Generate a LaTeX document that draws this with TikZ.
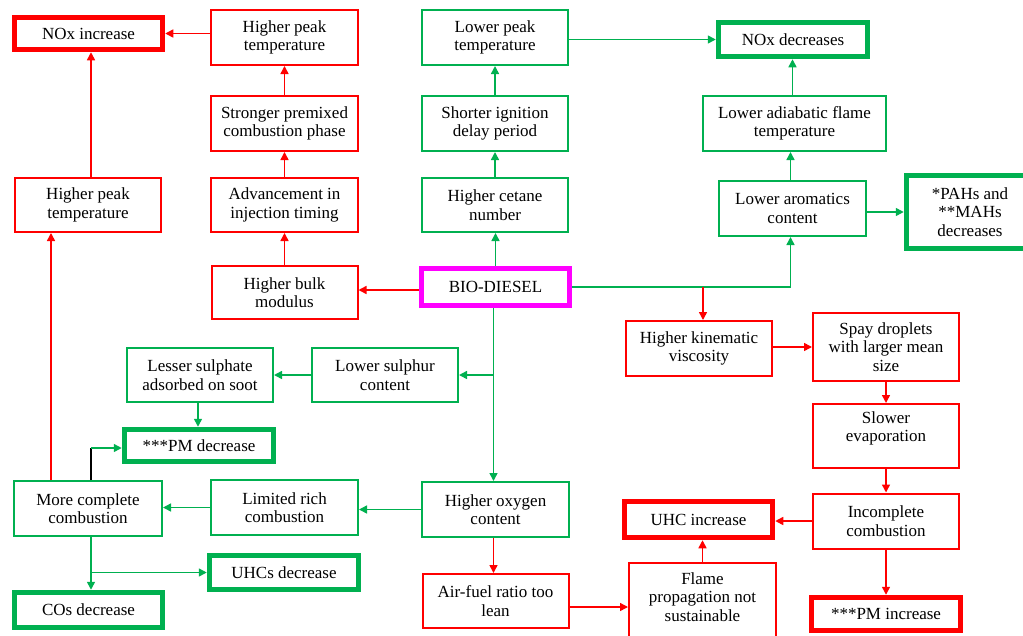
\documentclass[tikz,border=0pt]{standalone}
\usepackage{fontspec}
\setmainfont{Liberation Serif}
\usepackage{tikz}
\usetikzlibrary{arrows.meta, calc}
\definecolor{fred}{RGB}{255,0,0}
\definecolor{fgreen}{RGB}{0,176,80}
\definecolor{fmag}{RGB}{255,0,255}
\newcommand{\boxfont}{\fontsize{17}{18.5}\selectfont}
\tikzset{
    box/.style={draw, fill=white, line width=2pt, align=center, inner sep=1pt, font=\boxfont, minimum width=146pt, minimum height=55pt},
    rbox/.style={box, draw=fred},
    gbox/.style={box, draw=fgreen},
    rbig/.style={box, draw=fred, line width=5.5pt, minimum width=148pt, minimum height=34pt},
    gbig/.style={box, draw=fgreen, line width=5.5pt, minimum width=148pt, minimum height=34pt},
    rarr/.style={fred, line width=1.5pt, -{Triangle[length=8pt,width=8pt]}},
    garr/.style={fgreen, line width=1.5pt, -{Triangle[length=8pt,width=8pt]}}
}

\begin{document}
\begin{tikzpicture}[x=1pt, y=-1pt]
\useasboundingbox (0,0) rectangle (1023,635);

        \node[rbig, minimum height=32pt] (noxinc) at (88.5,33.5) {NOx increase};
        \node[rbox, minimum width=147pt] (peakA) at (284.5,37.5) {Higher peak\\temperature};
        \node[rbox, minimum width=147pt] (premix) at (284.5,123.5) {Stronger premixed\\combustion phase};
        \node[rbox, minimum width=147pt, minimum height=54pt] (advance) at (284.5,205) {Advancement in\\injection timing};
        \node[rbox, minimum height=54pt] (peakB) at (88,205) {Higher peak\\temperature};
        \node[rbox, minimum height=53pt] (bulk) at (284.5,292.5) {Higher bulk\\modulus};
        \node[gbox, minimum height=54pt] (lesser) at (200,375) {Lesser sulphate\\adsorbed on soot};
        \node[gbox, minimum height=54pt] (sulphur) at (385,375) {Lower sulphur\\content};
        \node[box, draw=fmag, line width=5.5pt, minimum width=148pt, minimum height=37pt] (bio) at (495.5,287) {BIO-DIESEL};
        \node[gbox] (lowpeak) at (495,37.5) {Lower peak\\temperature};
        \node[gbox] (ignition) at (495,123.5) {Shorter ignition\\delay period};
        \node[gbox, minimum height=54pt] (cetane) at (495,205) {Higher cetane\\number};
        \node[gbig, minimum width=149pt] (noxdec) at (793,39.5) {NOx decreases};
        \node[gbox, minimum width=183pt] (adiabatic) at (794.5,123.5) {Lower adiabatic flame\\temperature};
        \node[gbox, minimum width=147pt] (aromatic) at (792.5,208.5) {Lower aromatics\\content};
        \node[gbig, minimum width=127pt, minimum height=73pt] (pahs) at (970,212) {*PAHs and\\**MAHs\\decreases};
        \node[rbox] (kinematic) at (699,348.5) {Higher kinematic\\viscosity};
        \node[rbox, minimum height=68pt] (spay) at (886,347) {Spay droplets\\with larger mean\\size};
        \node[rbox, minimum height=64pt] (slower) at (886,436) {Slower\\evaporation\\\mbox{}};
        \node[rbox] (incomplete) at (886,521) {Incomplete\\combustion};
        \node[rbig, minimum width=149pt, minimum height=33pt] (pminc) at (886,614) {***PM increase};
        \node[rbig, minimum height=36pt] (uhcinc) at (698.5,519.5) {UHC increase};
        \node[rbox, minimum width=147pt, minimum height=86pt] (flame) at (702.5,606) {Flame\\propagation not\\sustainable\\\mbox{}};
        \node[rbox, minimum height=54pt] (airfuel) at (495.5,601) {Air-fuel ratio too\\lean};
        \node[gbox, minimum width=147pt] (oxygen) at (495.5,509.5) {Higher oxygen\\content};
        \node[gbox, minimum width=147pt] (limited) at (284.5,507.5) {Limited rich\\combustion};
        \node[gbox, minimum width=148pt] (morecomp) at (88,508.5) {More complete\\combustion};
        \node[gbig, minimum width=149pt, minimum height=32pt] (pmdec) at (199,445.5) {***PM decrease};
        \node[gbig, minimum width=149pt] (uhcdec) at (284,572.5) {UHCs decrease};
        \node[gbig, minimum height=35pt] (codec) at (88.5,610) {COs decrease};

        \draw[rarr] (peakA.west |- noxinc) -- (noxinc.east);
        \draw[rarr] (premix) -- (peakA);
        \draw[rarr] (advance) -- (premix);
        \draw[rarr] (bulk) -- (advance);
        \draw[rarr] ([yshift=-3pt]bio.west) -- ([yshift=-3pt]bio.west -| bulk.east);
        \draw[rarr] ([xshift=3pt]peakB.north) -- ([xshift=3pt]peakB.north |- noxinc.south);
        \draw[rarr] ([xshift=-37pt]morecomp.north) -- ([xshift=-37pt]morecomp.north |- peakB.south);
        \draw[black, line width=1.5pt] ([xshift=3pt]morecomp.north) -- ++(0,-32) coordinate (kink);
        \draw[garr] (kink) -- (kink -| pmdec.west);

        \draw[garr] (bio.north) -- (bio.north |- cetane.south);
        \draw[garr] (cetane) -- (ignition);
        \draw[garr] (ignition) -- (lowpeak);
        \draw[garr] (lowpeak.east |- noxdec) -- (noxdec.west);
        \draw[garr] (bio.east) -| ([xshift=-2pt]aromatic.south);
        \draw[rarr] ([xshift=4pt]kinematic.north |- bio.east) -- ([xshift=4pt]kinematic.north);
        \draw[garr] ([xshift=-2pt]aromatic.north) -- ([xshift=-2pt]aromatic.north |- adiabatic.south);
        \draw[garr] ([xshift=-2pt]adiabatic.north) -- ([xshift=-2pt]adiabatic.north |- noxdec.south);
        \draw[garr] (aromatic.east |- pahs) -- (pahs.west);

        \draw[rarr] (kinematic.east |- spay) -- (spay.west);
        \draw[rarr] (spay) -- (slower);
        \draw[rarr] (slower) -- (incomplete);
        \draw[rarr] (incomplete.west) -- (incomplete.west -| uhcinc.east);
        \draw[rarr] (incomplete) -- (pminc);

        \draw[garr] ([xshift=-2pt]bio.south) -- ([xshift=-2pt]bio.south |- oxygen.north);
        \draw[garr] ([xshift=-2pt]bio.south |- sulphur.east) -- (sulphur.east);
        \draw[garr] (sulphur.west) -- (lesser.east);
        \draw[garr] ([xshift=-2pt]lesser.south) -- ([xshift=-2pt]lesser.south |- pmdec.north);
        \draw[garr] (oxygen.west) -- (oxygen.west -| limited.east);
        \draw[garr] (limited.west) -- (limited.west -| morecomp.east);
        \draw[garr] ([xshift=3pt]morecomp.south) -- ([xshift=3pt]morecomp.south |- codec.north);
        \draw[garr] ([xshift=3pt]morecomp.south |- uhcdec) -- (uhcdec.west);

        \draw[rarr] ([xshift=-2pt]oxygen.south) -- ([xshift=-2pt]oxygen.south |- airfuel.north);
        \draw[rarr] ([yshift=-6pt]airfuel.east) -- ([yshift=-6pt]airfuel.east -| flame.west);
        \draw[rarr] (flame.north) -- (flame.north |- uhcinc.south);
\end{tikzpicture}
\end{document}
